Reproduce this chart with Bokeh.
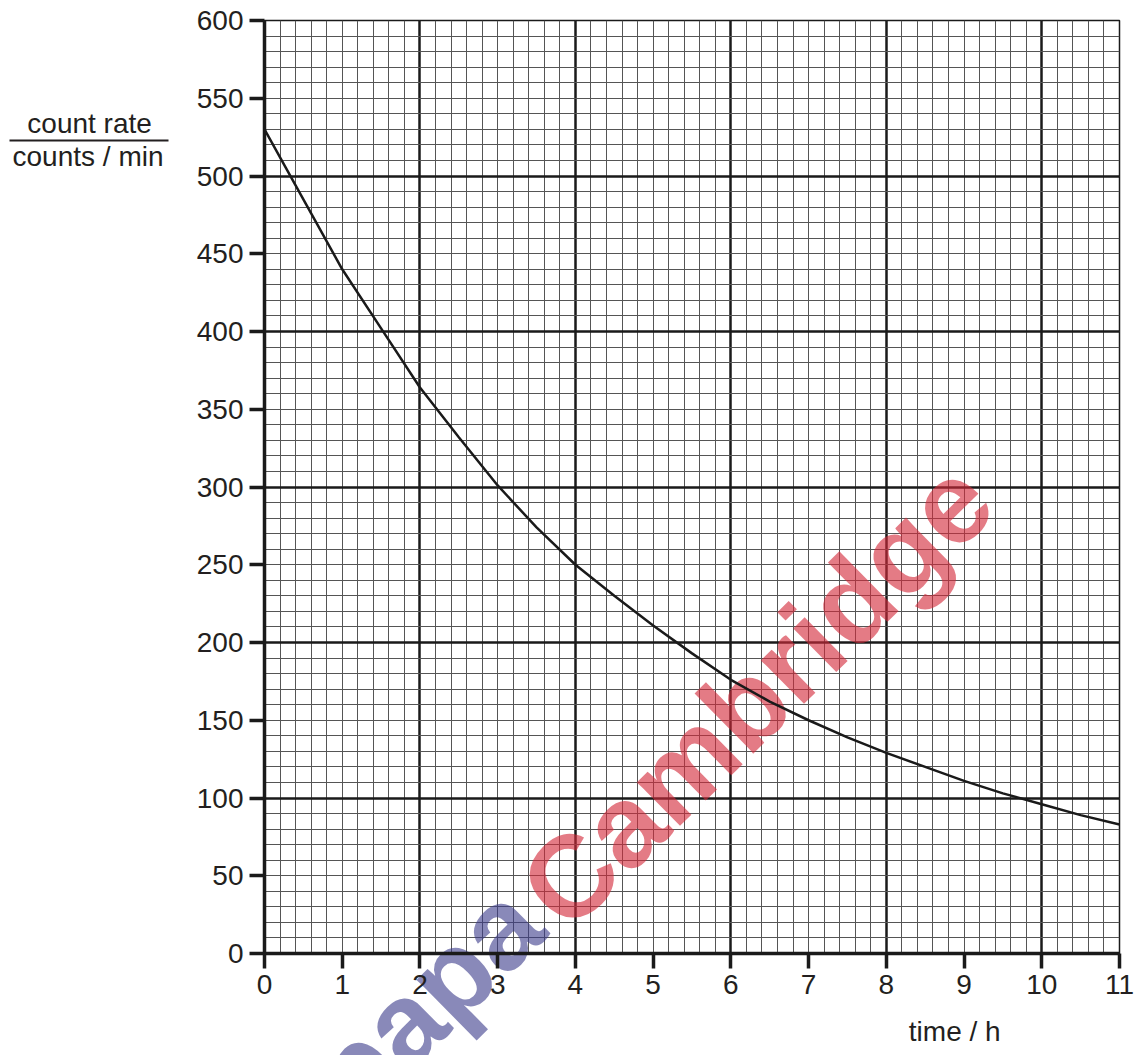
from bokeh.plotting import figure
from bokeh.models import (Range1d, SingleIntervalTicker, FixedTicker, Label,
                          LinearAxis)
from bokeh.embed import file_html
from bokeh.resources import INLINE

# ---- data ----
time_h = [0, 0.5, 1, 1.5, 2, 2.5, 3, 3.5, 4, 4.5, 5, 5.5, 6, 6.5, 7, 7.5,
          8, 8.5, 9, 9.5, 10, 10.5, 11]
count_rate = [530, 485, 440, 402, 364, 332, 301, 274, 250, 230, 211, 193,
              176, 162, 150, 139, 129, 120, 111, 103, 96, 89, 83]
x_tick_values = list(range(0, 12))
y_tick_values = list(range(0, 601, 50))
y_label_top = "count rate"
y_label_bottom = "counts / min"
x_label = "time / h"
watermark_a = "papa"
watermark_b = "Cambridge"

FONT = "Liberation Sans"
INK = "#231f20"

p = figure(width=1136, height=1055,
           x_range=Range1d(0, 11), y_range=Range1d(0, 600),
           output_backend="svg", toolbar_location=None,
           min_border_left=264, min_border_right=17,
           min_border_top=20, min_border_bottom=102)
p.background_fill_color = "white"
p.border_fill_color = "white"
p.outline_line_color = "#1a1a1a"
p.outline_line_width = 1.5

# grid: major every 2 h / 100 counts, minor every 0.2 h / 10 counts
p.xgrid.ticker = SingleIntervalTicker(interval=2, num_minor_ticks=10)
p.ygrid.ticker = SingleIntervalTicker(interval=100, num_minor_ticks=10)
p.xgrid.bounds = (0, 11)
p.ygrid.bounds = (0, 600)
for g in (p.xgrid, p.ygrid):
    g.grid_line_color = "#1a1a1a"
    g.grid_line_width = 2.5
    g.grid_line_alpha = 1.0
    g.minor_grid_line_color = "#555555"
    g.minor_grid_line_width = 1

p.xaxis.ticker = FixedTicker(ticks=x_tick_values)
p.yaxis.ticker = FixedTicker(ticks=y_tick_values)
for ax in (p.xaxis, p.yaxis):
    ax.axis_line_color = "#1a1a1a"
    ax.axis_line_width = 3.5
    ax.major_tick_line_color = "#1a1a1a"
    ax.major_tick_line_width = 3.5
    ax.major_tick_out = 15
    ax.major_tick_in = 0
    ax.minor_tick_line_color = None
    ax.major_label_text_font = FONT
    ax.major_label_text_font_size = "28px"
    ax.major_label_text_color = INK
p.xaxis.major_label_standoff = 6
p.yaxis.major_label_standoff = 6


def text_axis(ticks, overrides, standoff, tick_in=0, tick_out=0,
              tick_color=None, size="28px", color=INK, alpha=1.0,
              style="normal", orientation="horizontal", tick_width=2):
    ax = LinearAxis(ticker=FixedTicker(ticks=ticks),
                    major_label_overrides=overrides,
                    major_label_standoff=standoff,
                    major_tick_in=tick_in, major_tick_out=tick_out,
                    major_tick_line_color=tick_color,
                    major_tick_line_width=tick_width,
                    minor_tick_line_color=None, axis_line_color=None,
                    major_label_text_font=FONT,
                    major_label_text_font_size=size,
                    major_label_text_color=color,
                    major_label_text_alpha=alpha,
                    major_label_text_font_style=style,
                    major_label_orientation=orientation)
    return ax


# y title as a fraction (labels + a long tick acting as the fraction bar)
y_title_pos = [533.8, 512.5]
p.add_layout(text_axis(y_title_pos,
                       {y_title_pos[0]: y_label_top + "\u2005\u2006",
                        y_title_pos[1]: y_label_bottom}, standoff=30), "left")
bar_pos = [522.8]
p.add_layout(text_axis(bar_pos, {bar_pos[0]: ""}, standoff=0, tick_in=159,
                       tick_out=0, tick_color=INK, tick_width=2), "left")

# x title
x_title_pos = [8.88]
p.add_layout(text_axis(x_title_pos, {x_title_pos[0]: x_label}, standoff=19),
             "below")

# watermark  "papa" + "Cambridge"
wm_angle = 0.777
wm_size = "116px"
papa_pos = [0.834]
p.add_layout(text_axis(papa_pos, {papa_pos[0]: watermark_a}, standoff=-1075,
                       size=wm_size, color="#3a3a8a", alpha=0.6, style="bold",
                       orientation=wm_angle), "above")
p.add_layout(Label(x=3.55, y=30, text=watermark_b, angle=wm_angle,
                   text_align="left", text_baseline="alphabetic",
                   text_font=FONT, text_font_style="bold", text_font_size=wm_size,
                   text_color="#d42a3a", text_alpha=0.62, level="underlay"))

# curve
p.line(time_h, count_rate, line_color="#1a1a1a", line_width=2.5)

open("out.html", "w").write(file_html(p, INLINE))
